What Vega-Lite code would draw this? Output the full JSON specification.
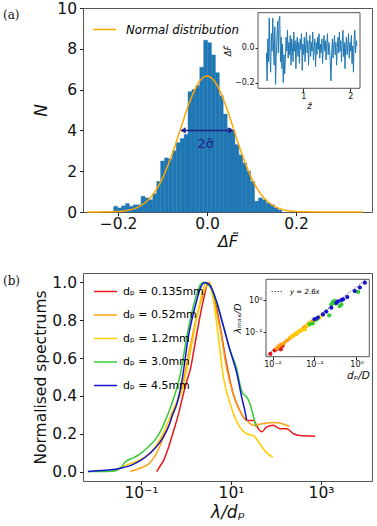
{
"$schema": "https://vega.github.io/schema/vega-lite/v6.json",
"padding": {"left": 2, "top": 0, "right": 6, "bottom": 2},
"background": "white",
"config": {
  "font": "DejaVu Sans",
  "view": {"stroke": "#555", "strokeWidth": 1},
  "axis": {"grid": false, "domain": false, "tickColor": "#222", "labelColor": "#111", "titleColor": "#111", "titleFontWeight": "normal", "labelFont": "DejaVu Sans", "titleFont": "DejaVu Sans"},
  "legend": {"labelFont": "DejaVu Sans", "padding": 0},
  "title": {"font": "DejaVu Serif", "fontSize": 12, "fontWeight": "normal", "anchor": "start", "frame": "group", "color": "#111"}
},
"datasets": {
  "hist": [
    {"lo": -0.2100, "hi": -0.2012, "count": 0.28},
    {"lo": -0.2012, "hi": -0.1924, "count": 0.2},
    {"lo": -0.1924, "hi": -0.1836, "count": 0.3},
    {"lo": -0.1836, "hi": -0.1748, "count": 0.41},
    {"lo": -0.1748, "hi": -0.1660, "count": 0.28},
    {"lo": -0.1660, "hi": -0.1572, "count": 0.35},
    {"lo": -0.1572, "hi": -0.1484, "count": 0.35},
    {"lo": -0.1484, "hi": -0.1396, "count": 0.77},
    {"lo": -0.1396, "hi": -0.1308, "count": 0.69},
    {"lo": -0.1308, "hi": -0.1220, "count": 0.6},
    {"lo": -0.1220, "hi": -0.1132, "count": 0.9},
    {"lo": -0.1132, "hi": -0.1044, "count": 1.5},
    {"lo": -0.1044, "hi": -0.0956, "count": 2.5},
    {"lo": -0.0956, "hi": -0.0868, "count": 2.65},
    {"lo": -0.0868, "hi": -0.0780, "count": 2.6},
    {"lo": -0.0780, "hi": -0.0692, "count": 3.0},
    {"lo": -0.0692, "hi": -0.0604, "count": 3.4},
    {"lo": -0.0604, "hi": -0.0516, "count": 3.6},
    {"lo": -0.0516, "hi": -0.0428, "count": 3.8},
    {"lo": -0.0428, "hi": -0.0340, "count": 5.9},
    {"lo": -0.0340, "hi": -0.0252, "count": 6.0},
    {"lo": -0.0252, "hi": -0.0164, "count": 6.2},
    {"lo": -0.0164, "hi": -0.0076, "count": 7.1},
    {"lo": -0.0076, "hi": 0.0012, "count": 8.42},
    {"lo": 0.0012, "hi": 0.0100, "count": 8.3},
    {"lo": 0.0100, "hi": 0.0188, "count": 7.7},
    {"lo": 0.0188, "hi": 0.0276, "count": 6.83},
    {"lo": 0.0276, "hi": 0.0364, "count": 5.7},
    {"lo": 0.0364, "hi": 0.0452, "count": 4.8},
    {"lo": 0.0452, "hi": 0.0540, "count": 4.1},
    {"lo": 0.0540, "hi": 0.0628, "count": 4.0},
    {"lo": 0.0628, "hi": 0.0716, "count": 3.3},
    {"lo": 0.0716, "hi": 0.0804, "count": 2.8},
    {"lo": 0.0804, "hi": 0.0892, "count": 2.4},
    {"lo": 0.0892, "hi": 0.0980, "count": 2.0},
    {"lo": 0.0980, "hi": 0.1068, "count": 1.5},
    {"lo": 0.1068, "hi": 0.1156, "count": 0.53},
    {"lo": 0.1156, "hi": 0.1244, "count": 0.69},
    {"lo": 0.1244, "hi": 0.1332, "count": 0.6},
    {"lo": 0.1332, "hi": 0.1420, "count": 0.44},
    {"lo": 0.1420, "hi": 0.1508, "count": 0.36},
    {"lo": 0.1508, "hi": 0.1596, "count": 0.2},
    {"lo": 0.1596, "hi": 0.1684, "count": 0.1}
  ],
  "normal": [
    {"series": "Normal distribution", "dF": -0.27, "N": 0.0},
    {"series": "Normal distribution", "dF": -0.25, "N": 0.001},
    {"series": "Normal distribution", "dF": -0.22, "N": 0.008},
    {"series": "Normal distribution", "dF": -0.20, "N": 0.026},
    {"series": "Normal distribution", "dF": -0.18, "N": 0.074},
    {"series": "Normal distribution", "dF": -0.16, "N": 0.19},
    {"series": "Normal distribution", "dF": -0.14, "N": 0.44},
    {"series": "Normal distribution", "dF": -0.12, "N": 0.90},
    {"series": "Normal distribution", "dF": -0.10, "N": 1.66},
    {"series": "Normal distribution", "dF": -0.08, "N": 2.74},
    {"series": "Normal distribution", "dF": -0.06, "N": 4.05},
    {"series": "Normal distribution", "dF": -0.04, "N": 5.34},
    {"series": "Normal distribution", "dF": -0.02, "N": 6.31},
    {"series": "Normal distribution", "dF": 0.0, "N": 6.67},
    {"series": "Normal distribution", "dF": 0.02, "N": 6.31},
    {"series": "Normal distribution", "dF": 0.04, "N": 5.34},
    {"series": "Normal distribution", "dF": 0.06, "N": 4.05},
    {"series": "Normal distribution", "dF": 0.08, "N": 2.74},
    {"series": "Normal distribution", "dF": 0.10, "N": 1.66},
    {"series": "Normal distribution", "dF": 0.12, "N": 0.90},
    {"series": "Normal distribution", "dF": 0.14, "N": 0.44},
    {"series": "Normal distribution", "dF": 0.16, "N": 0.19},
    {"series": "Normal distribution", "dF": 0.18, "N": 0.074},
    {"series": "Normal distribution", "dF": 0.20, "N": 0.026},
    {"series": "Normal distribution", "dF": 0.22, "N": 0.008},
    {"series": "Normal distribution", "dF": 0.25, "N": 0.001},
    {"series": "Normal distribution", "dF": 0.30, "N": 0.0},
    {"series": "Normal distribution", "dF": 0.35, "N": 0.0}
  ],
  "series": [
    {"z": 0.21, "dF": -0.03}, {"z": 0.225, "dF": -0.19}, {"z": 0.24, "dF": 0.05}, {"z": 0.255, "dF": -0.08},
    {"z": 0.27, "dF": 0.17}, {"z": 0.285, "dF": -0.05}, {"z": 0.30, "dF": -0.14}, {"z": 0.315, "dF": 0.08},
    {"z": 0.33, "dF": -0.02}, {"z": 0.345, "dF": 0.17}, {"z": 0.36, "dF": 0.02}, {"z": 0.375, "dF": -0.10},
    {"z": 0.39, "dF": 0.12}, {"z": 0.405, "dF": -0.21}, {"z": 0.42, "dF": -0.05}, {"z": 0.435, "dF": 0.06},
    {"z": 0.45, "dF": 0.15}, {"z": 0.465, "dF": -0.03}, {"z": 0.48, "dF": 0.16}, {"z": 0.495, "dF": 0.18},
    {"z": 0.51, "dF": -0.08}, {"z": 0.525, "dF": 0.06}, {"z": 0.54, "dF": -0.12}, {"z": 0.555, "dF": 0.02},
    {"z": 0.57, "dF": -0.20}, {"z": 0.585, "dF": -0.04}, {"z": 0.60, "dF": -0.15}, {"z": 0.615, "dF": -0.07},
    {"z": 0.63, "dF": 0.06}, {"z": 0.645, "dF": -0.02}, {"z": 0.66, "dF": 0.10}, {"z": 0.675, "dF": -0.06},
    {"z": 0.69, "dF": 0.03}, {"z": 0.705, "dF": -0.04}, {"z": 0.72, "dF": 0.07}, {"z": 0.735, "dF": -0.10},
    {"z": 0.75, "dF": 0.05}, {"z": 0.765, "dF": 0.0}, {"z": 0.78, "dF": -0.08}, {"z": 0.795, "dF": 0.09},
    {"z": 0.81, "dF": -0.02}, {"z": 0.825, "dF": 0.04}, {"z": 0.84, "dF": -0.12}, {"z": 0.855, "dF": 0.02},
    {"z": 0.87, "dF": 0.06}, {"z": 0.885, "dF": -0.05}, {"z": 0.90, "dF": 0.03}, {"z": 0.915, "dF": -0.09},
    {"z": 0.93, "dF": 0.05}, {"z": 0.945, "dF": -0.01}, {"z": 0.96, "dF": 0.08}, {"z": 0.975, "dF": -0.13},
    {"z": 0.99, "dF": 0.02}, {"z": 1.005, "dF": -0.04}, {"z": 1.02, "dF": 0.06}, {"z": 1.035, "dF": -0.08},
    {"z": 1.05, "dF": 0.02}, {"z": 1.065, "dF": 0.09}, {"z": 1.08, "dF": -0.03}, {"z": 1.095, "dF": 0.04},
    {"z": 1.11, "dF": -0.10}, {"z": 1.125, "dF": 0.01}, {"z": 1.14, "dF": 0.07}, {"z": 1.155, "dF": -0.05},
    {"z": 1.17, "dF": 0.03}, {"z": 1.185, "dF": -0.02}, {"z": 1.20, "dF": 0.09}, {"z": 1.215, "dF": -0.07},
    {"z": 1.23, "dF": 0.0}, {"z": 1.245, "dF": 0.05}, {"z": 1.26, "dF": -0.11}, {"z": 1.275, "dF": 0.03},
    {"z": 1.29, "dF": -0.04}, {"z": 1.305, "dF": 0.06}, {"z": 1.32, "dF": -0.01}, {"z": 1.335, "dF": 0.08},
    {"z": 1.35, "dF": -0.06}, {"z": 1.365, "dF": 0.02}, {"z": 1.38, "dF": -0.03}, {"z": 1.395, "dF": 0.05},
    {"z": 1.41, "dF": -0.09}, {"z": 1.425, "dF": 0.01}, {"z": 1.44, "dF": 0.07}, {"z": 1.455, "dF": -0.02},
    {"z": 1.47, "dF": 0.04}, {"z": 1.485, "dF": -0.07}, {"z": 1.50, "dF": 0.02}, {"z": 1.515, "dF": 0.08},
    {"z": 1.53, "dF": -0.04}, {"z": 1.545, "dF": 0.03}, {"z": 1.56, "dF": -0.01}, {"z": 1.575, "dF": -0.08},
    {"z": 1.59, "dF": -0.19}, {"z": 1.605, "dF": -0.03}, {"z": 1.62, "dF": 0.05}, {"z": 1.635, "dF": -0.06},
    {"z": 1.65, "dF": 0.02}, {"z": 1.665, "dF": 0.07}, {"z": 1.68, "dF": -0.04}, {"z": 1.695, "dF": 0.03},
    {"z": 1.71, "dF": -0.10}, {"z": 1.725, "dF": 0.0}, {"z": 1.74, "dF": 0.06}, {"z": 1.755, "dF": -0.03},
    {"z": 1.77, "dF": 0.09}, {"z": 1.785, "dF": -0.02}, {"z": 1.80, "dF": 0.04}, {"z": 1.815, "dF": -0.08},
    {"z": 1.83, "dF": 0.02}, {"z": 1.845, "dF": 0.10}, {"z": 1.86, "dF": -0.05}, {"z": 1.875, "dF": 0.03},
    {"z": 1.89, "dF": -0.12}, {"z": 1.905, "dF": 0.01}, {"z": 1.92, "dF": 0.06}, {"z": 1.935, "dF": -0.04},
    {"z": 1.95, "dF": 0.02}, {"z": 1.965, "dF": 0.08}, {"z": 1.98, "dF": -0.06}, {"z": 1.995, "dF": 0.03},
    {"z": 2.01, "dF": -0.02}, {"z": 2.025, "dF": 0.07}, {"z": 2.04, "dF": -0.09}, {"z": 2.055, "dF": 0.01},
    {"z": 2.07, "dF": -0.14}, {"z": 2.085, "dF": 0.05}, {"z": 2.10, "dF": 0.10}, {"z": 2.115, "dF": -0.03},
    {"z": 2.13, "dF": 0.04}, {"z": 2.145, "dF": 0.01}
  ],
  "spectra": [
    {"dp": "dₚ = 0.135mm", "lambda_dp": 0.2239, "spectrum": 0.0},
    {"dp": "dₚ = 0.135mm", "lambda_dp": 0.2512, "spectrum": 0.02},
    {"dp": "dₚ = 0.135mm", "lambda_dp": 0.3162, "spectrum": 0.058},
    {"dp": "dₚ = 0.135mm", "lambda_dp": 0.4121, "spectrum": 0.13},
    {"dp": "dₚ = 0.135mm", "lambda_dp": 0.537, "spectrum": 0.22},
    {"dp": "dₚ = 0.135mm", "lambda_dp": 0.6918, "spectrum": 0.31},
    {"dp": "dₚ = 0.135mm", "lambda_dp": 0.8128, "spectrum": 0.38},
    {"dp": "dₚ = 0.135mm", "lambda_dp": 1.0471, "spectrum": 0.48},
    {"dp": "dₚ = 0.135mm", "lambda_dp": 1.23, "spectrum": 0.535},
    {"dp": "dₚ = 0.135mm", "lambda_dp": 1.738, "spectrum": 0.73},
    {"dp": "dₚ = 0.135mm", "lambda_dp": 2.399, "spectrum": 0.9},
    {"dp": "dₚ = 0.135mm", "lambda_dp": 3.162, "spectrum": 1.0},
    {"dp": "dₚ = 0.135mm", "lambda_dp": 4.074, "spectrum": 0.94},
    {"dp": "dₚ = 0.135mm", "lambda_dp": 5.754, "spectrum": 0.765},
    {"dp": "dₚ = 0.135mm", "lambda_dp": 7.943, "spectrum": 0.57},
    {"dp": "dₚ = 0.135mm", "lambda_dp": 11.22, "spectrum": 0.41},
    {"dp": "dₚ = 0.135mm", "lambda_dp": 15.85, "spectrum": 0.32},
    {"dp": "dₚ = 0.135mm", "lambda_dp": 22.39, "spectrum": 0.27},
    {"dp": "dₚ = 0.135mm", "lambda_dp": 31.62, "spectrum": 0.27},
    {"dp": "dₚ = 0.135mm", "lambda_dp": 39.81, "spectrum": 0.23},
    {"dp": "dₚ = 0.135mm", "lambda_dp": 47.86, "spectrum": 0.21},
    {"dp": "dₚ = 0.135mm", "lambda_dp": 61.66, "spectrum": 0.235},
    {"dp": "dₚ = 0.135mm", "lambda_dp": 87.1, "spectrum": 0.245},
    {"dp": "dₚ = 0.135mm", "lambda_dp": 123.0, "spectrum": 0.226},
    {"dp": "dₚ = 0.135mm", "lambda_dp": 173.8, "spectrum": 0.226},
    {"dp": "dₚ = 0.135mm", "lambda_dp": 245.5, "spectrum": 0.2},
    {"dp": "dₚ = 0.135mm", "lambda_dp": 338.8, "spectrum": 0.19},
    {"dp": "dₚ = 0.135mm", "lambda_dp": 741.3, "spectrum": 0.187},
    {"dp": "dₚ = 0.52mm", "lambda_dp": 0.05754, "spectrum": 0.0},
    {"dp": "dₚ = 0.52mm", "lambda_dp": 0.1, "spectrum": 0.02},
    {"dp": "dₚ = 0.52mm", "lambda_dp": 0.1479, "spectrum": 0.04},
    {"dp": "dₚ = 0.52mm", "lambda_dp": 0.2089, "spectrum": 0.085},
    {"dp": "dₚ = 0.52mm", "lambda_dp": 0.3162, "spectrum": 0.18},
    {"dp": "dₚ = 0.52mm", "lambda_dp": 0.4898, "spectrum": 0.29},
    {"dp": "dₚ = 0.52mm", "lambda_dp": 0.631, "spectrum": 0.37},
    {"dp": "dₚ = 0.52mm", "lambda_dp": 0.7943, "spectrum": 0.44},
    {"dp": "dₚ = 0.52mm", "lambda_dp": 1.23, "spectrum": 0.66},
    {"dp": "dₚ = 0.52mm", "lambda_dp": 1.862, "spectrum": 0.85},
    {"dp": "dₚ = 0.52mm", "lambda_dp": 2.63, "spectrum": 0.96},
    {"dp": "dₚ = 0.52mm", "lambda_dp": 3.311, "spectrum": 1.0},
    {"dp": "dₚ = 0.52mm", "lambda_dp": 4.074, "spectrum": 0.92},
    {"dp": "dₚ = 0.52mm", "lambda_dp": 5.754, "spectrum": 0.75},
    {"dp": "dₚ = 0.52mm", "lambda_dp": 7.943, "spectrum": 0.55},
    {"dp": "dₚ = 0.52mm", "lambda_dp": 11.22, "spectrum": 0.41},
    {"dp": "dₚ = 0.52mm", "lambda_dp": 15.85, "spectrum": 0.32},
    {"dp": "dₚ = 0.52mm", "lambda_dp": 22.39, "spectrum": 0.27},
    {"dp": "dₚ = 0.52mm", "lambda_dp": 31.62, "spectrum": 0.245},
    {"dp": "dₚ = 0.52mm", "lambda_dp": 43.65, "spectrum": 0.25},
    {"dp": "dₚ = 0.52mm", "lambda_dp": 61.66, "spectrum": 0.257},
    {"dp": "dₚ = 0.52mm", "lambda_dp": 87.1, "spectrum": 0.26},
    {"dp": "dₚ = 0.52mm", "lambda_dp": 120.2, "spectrum": 0.257},
    {"dp": "dₚ = 0.52mm", "lambda_dp": 173.8, "spectrum": 0.244},
    {"dp": "dₚ = 0.52mm", "lambda_dp": 199.5, "spectrum": 0.238},
    {"dp": "dₚ = 1.2mm", "lambda_dp": 0.02291, "spectrum": 0.0},
    {"dp": "dₚ = 1.2mm", "lambda_dp": 0.04467, "spectrum": 0.032},
    {"dp": "dₚ = 1.2mm", "lambda_dp": 0.1047, "spectrum": 0.067},
    {"dp": "dₚ = 1.2mm", "lambda_dp": 0.1905, "spectrum": 0.12},
    {"dp": "dₚ = 1.2mm", "lambda_dp": 0.2951, "spectrum": 0.19},
    {"dp": "dₚ = 1.2mm", "lambda_dp": 0.4467, "spectrum": 0.29},
    {"dp": "dₚ = 1.2mm", "lambda_dp": 0.631, "spectrum": 0.37},
    {"dp": "dₚ = 1.2mm", "lambda_dp": 0.7413, "spectrum": 0.4},
    {"dp": "dₚ = 1.2mm", "lambda_dp": 1.23, "spectrum": 0.625},
    {"dp": "dₚ = 1.2mm", "lambda_dp": 1.862, "spectrum": 0.85},
    {"dp": "dₚ = 1.2mm", "lambda_dp": 2.63, "spectrum": 0.99},
    {"dp": "dₚ = 1.2mm", "lambda_dp": 2.951, "spectrum": 1.0},
    {"dp": "dₚ = 1.2mm", "lambda_dp": 4.074, "spectrum": 0.906},
    {"dp": "dₚ = 1.2mm", "lambda_dp": 5.248, "spectrum": 0.71},
    {"dp": "dₚ = 1.2mm", "lambda_dp": 6.761, "spectrum": 0.5},
    {"dp": "dₚ = 1.2mm", "lambda_dp": 9.55, "spectrum": 0.36},
    {"dp": "dₚ = 1.2mm", "lambda_dp": 14.45, "spectrum": 0.25},
    {"dp": "dₚ = 1.2mm", "lambda_dp": 22.39, "spectrum": 0.2},
    {"dp": "dₚ = 1.2mm", "lambda_dp": 31.62, "spectrum": 0.19},
    {"dp": "dₚ = 1.2mm", "lambda_dp": 43.65, "spectrum": 0.147},
    {"dp": "dₚ = 1.2mm", "lambda_dp": 61.66, "spectrum": 0.1},
    {"dp": "dₚ = 1.2mm", "lambda_dp": 85.11, "spectrum": 0.076},
    {"dp": "dₚ = 3.0mm", "lambda_dp": 0.00661, "spectrum": 0.0},
    {"dp": "dₚ = 3.0mm", "lambda_dp": 0.01259, "spectrum": 0.0},
    {"dp": "dₚ = 3.0mm", "lambda_dp": 0.02512, "spectrum": 0.003},
    {"dp": "dₚ = 3.0mm", "lambda_dp": 0.03548, "spectrum": 0.02},
    {"dp": "dₚ = 3.0mm", "lambda_dp": 0.04467, "spectrum": 0.05},
    {"dp": "dₚ = 3.0mm", "lambda_dp": 0.07079, "spectrum": 0.075},
    {"dp": "dₚ = 3.0mm", "lambda_dp": 0.1047, "spectrum": 0.1},
    {"dp": "dₚ = 3.0mm", "lambda_dp": 0.1585, "spectrum": 0.14},
    {"dp": "dₚ = 3.0mm", "lambda_dp": 0.2089, "spectrum": 0.17},
    {"dp": "dₚ = 3.0mm", "lambda_dp": 0.2818, "spectrum": 0.22},
    {"dp": "dₚ = 3.0mm", "lambda_dp": 0.3467, "spectrum": 0.27},
    {"dp": "dₚ = 3.0mm", "lambda_dp": 0.4365, "spectrum": 0.33},
    {"dp": "dₚ = 3.0mm", "lambda_dp": 0.537, "spectrum": 0.39},
    {"dp": "dₚ = 3.0mm", "lambda_dp": 0.7413, "spectrum": 0.51},
    {"dp": "dₚ = 3.0mm", "lambda_dp": 1.0375, "spectrum": 0.71},
    {"dp": "dₚ = 3.0mm", "lambda_dp": 1.445, "spectrum": 0.87},
    {"dp": "dₚ = 3.0mm", "lambda_dp": 2.042, "spectrum": 0.985},
    {"dp": "dₚ = 3.0mm", "lambda_dp": 2.399, "spectrum": 1.0},
    {"dp": "dₚ = 3.0mm", "lambda_dp": 3.388, "spectrum": 0.98},
    {"dp": "dₚ = 3.0mm", "lambda_dp": 4.786, "spectrum": 0.89},
    {"dp": "dₚ = 3.0mm", "lambda_dp": 6.761, "spectrum": 0.77},
    {"dp": "dₚ = 3.0mm", "lambda_dp": 9.55, "spectrum": 0.64},
    {"dp": "dₚ = 3.0mm", "lambda_dp": 13.49, "spectrum": 0.54},
    {"dp": "dₚ = 3.0mm", "lambda_dp": 15.85, "spectrum": 0.46},
    {"dp": "dₚ = 3.0mm", "lambda_dp": 18.62, "spectrum": 0.41},
    {"dp": "dₚ = 3.0mm", "lambda_dp": 21.38, "spectrum": 0.4},
    {"dp": "dₚ = 3.0mm", "lambda_dp": 26.3, "spectrum": 0.36},
    {"dp": "dₚ = 3.0mm", "lambda_dp": 31.62, "spectrum": 0.29},
    {"dp": "dₚ = 3.0mm", "lambda_dp": 36.31, "spectrum": 0.235},
    {"dp": "dₚ = 4.5mm", "lambda_dp": 0.00661, "spectrum": 0.0},
    {"dp": "dₚ = 4.5mm", "lambda_dp": 0.01259, "spectrum": 0.005},
    {"dp": "dₚ = 4.5mm", "lambda_dp": 0.02692, "spectrum": 0.012},
    {"dp": "dₚ = 4.5mm", "lambda_dp": 0.0631, "spectrum": 0.035},
    {"dp": "dₚ = 4.5mm", "lambda_dp": 0.1, "spectrum": 0.06},
    {"dp": "dₚ = 4.5mm", "lambda_dp": 0.1479, "spectrum": 0.09},
    {"dp": "dₚ = 4.5mm", "lambda_dp": 0.1995, "spectrum": 0.12},
    {"dp": "dₚ = 4.5mm", "lambda_dp": 0.2455, "spectrum": 0.145},
    {"dp": "dₚ = 4.5mm", "lambda_dp": 0.3162, "spectrum": 0.185},
    {"dp": "dₚ = 4.5mm", "lambda_dp": 0.4121, "spectrum": 0.24},
    {"dp": "dₚ = 4.5mm", "lambda_dp": 0.5012, "spectrum": 0.3},
    {"dp": "dₚ = 4.5mm", "lambda_dp": 0.631, "spectrum": 0.36},
    {"dp": "dₚ = 4.5mm", "lambda_dp": 0.7413, "spectrum": 0.43},
    {"dp": "dₚ = 4.5mm", "lambda_dp": 0.8128, "spectrum": 0.48},
    {"dp": "dₚ = 4.5mm", "lambda_dp": 1.122, "spectrum": 0.71},
    {"dp": "dₚ = 4.5mm", "lambda_dp": 1.585, "spectrum": 0.87},
    {"dp": "dₚ = 4.5mm", "lambda_dp": 2.138, "spectrum": 0.977},
    {"dp": "dₚ = 4.5mm", "lambda_dp": 2.63, "spectrum": 1.0},
    {"dp": "dₚ = 4.5mm", "lambda_dp": 3.388, "spectrum": 0.985},
    {"dp": "dₚ = 4.5mm", "lambda_dp": 4.786, "spectrum": 0.9},
    {"dp": "dₚ = 4.5mm", "lambda_dp": 6.761, "spectrum": 0.77},
    {"dp": "dₚ = 4.5mm", "lambda_dp": 9.55, "spectrum": 0.64},
    {"dp": "dₚ = 4.5mm", "lambda_dp": 13.49, "spectrum": 0.52},
    {"dp": "dₚ = 4.5mm", "lambda_dp": 17.38, "spectrum": 0.39},
    {"dp": "dₚ = 4.5mm", "lambda_dp": 20.42, "spectrum": 0.32},
    {"dp": "dₚ = 4.5mm", "lambda_dp": 22.39, "spectrum": 0.27}
  ],
  "scatter": [
    {"dp": "dₚ = 0.135mm", "dp_D": 0.008913, "lambda_D": 0.02138},
    {"dp": "dₚ = 0.135mm", "dp_D": 0.01122, "lambda_D": 0.02754},
    {"dp": "dₚ = 0.135mm", "dp_D": 0.01259, "lambda_D": 0.03020},
    {"dp": "dₚ = 0.135mm", "dp_D": 0.01445, "lambda_D": 0.03467},
    {"dp": "dₚ = 0.135mm", "dp_D": 0.01585, "lambda_D": 0.02951},
    {"dp": "dₚ = 0.135mm", "dp_D": 0.01738, "lambda_D": 0.03802},
    {"dp": "dₚ = 0.52mm", "dp_D": 0.01259, "lambda_D": 0.03162},
    {"dp": "dₚ = 0.52mm", "dp_D": 0.01380, "lambda_D": 0.03631},
    {"dp": "dₚ = 0.52mm", "dp_D": 0.01585, "lambda_D": 0.04169},
    {"dp": "dₚ = 0.52mm", "dp_D": 0.01905, "lambda_D": 0.04677},
    {"dp": "dₚ = 0.52mm", "dp_D": 0.02239, "lambda_D": 0.05623},
    {"dp": "dₚ = 0.52mm", "dp_D": 0.02630, "lambda_D": 0.06761},
    {"dp": "dₚ = 0.52mm", "dp_D": 0.03162, "lambda_D": 0.07943},
    {"dp": "dₚ = 0.52mm", "dp_D": 0.03715, "lambda_D": 0.08913},
    {"dp": "dₚ = 0.52mm", "dp_D": 0.04467, "lambda_D": 0.1096},
    {"dp": "dₚ = 0.52mm", "dp_D": 0.05370, "lambda_D": 0.1318},
    {"dp": "dₚ = 0.52mm", "dp_D": 0.05888, "lambda_D": 0.1479},
    {"dp": "dₚ = 0.52mm", "dp_D": 0.07079, "lambda_D": 0.1820},
    {"dp": "dₚ = 0.52mm", "dp_D": 0.08913, "lambda_D": 0.2188},
    {"dp": "dₚ = 1.2mm", "dp_D": 0.02818, "lambda_D": 0.07244},
    {"dp": "dₚ = 1.2mm", "dp_D": 0.03090, "lambda_D": 0.07943},
    {"dp": "dₚ = 1.2mm", "dp_D": 0.03548, "lambda_D": 0.09120},
    {"dp": "dₚ = 1.2mm", "dp_D": 0.04169, "lambda_D": 0.1047},
    {"dp": "dₚ = 1.2mm", "dp_D": 0.05012, "lambda_D": 0.1202},
    {"dp": "dₚ = 1.2mm", "dp_D": 0.05888, "lambda_D": 0.1230},
    {"dp": "dₚ = 1.2mm", "dp_D": 0.06607, "lambda_D": 0.1585},
    {"dp": "dₚ = 1.2mm", "dp_D": 0.07762, "lambda_D": 0.1995},
    {"dp": "dₚ = 1.2mm", "dp_D": 0.1, "lambda_D": 0.2399},
    {"dp": "dₚ = 1.2mm", "dp_D": 0.1318, "lambda_D": 0.2884},
    {"dp": "dₚ = 1.2mm", "dp_D": 0.1585, "lambda_D": 0.3548},
    {"dp": "dₚ = 3.0mm", "dp_D": 0.07762, "lambda_D": 0.1778},
    {"dp": "dₚ = 3.0mm", "dp_D": 0.09120, "lambda_D": 0.1905},
    {"dp": "dₚ = 3.0mm", "dp_D": 0.1122, "lambda_D": 0.2512},
    {"dp": "dₚ = 3.0mm", "dp_D": 0.2239, "lambda_D": 0.3388},
    {"dp": "dₚ = 3.0mm", "dp_D": 0.2512, "lambda_D": 0.7586},
    {"dp": "dₚ = 3.0mm", "dp_D": 0.2754, "lambda_D": 0.8913},
    {"dp": "dₚ = 3.0mm", "dp_D": 0.3020, "lambda_D": 0.9550},
    {"dp": "dₚ = 3.0mm", "dp_D": 0.3162, "lambda_D": 0.7943},
    {"dp": "dₚ = 3.0mm", "dp_D": 0.3981, "lambda_D": 0.6607},
    {"dp": "dₚ = 3.0mm", "dp_D": 0.4365, "lambda_D": 0.7413},
    {"dp": "dₚ = 3.0mm", "dp_D": 1.096, "lambda_D": 1.820},
    {"dp": "dₚ = 4.5mm", "dp_D": 0.1, "lambda_D": 0.2570},
    {"dp": "dₚ = 4.5mm", "dp_D": 0.1202, "lambda_D": 0.2884},
    {"dp": "dₚ = 4.5mm", "dp_D": 0.1585, "lambda_D": 0.3631},
    {"dp": "dₚ = 4.5mm", "dp_D": 0.1905, "lambda_D": 0.4467},
    {"dp": "dₚ = 4.5mm", "dp_D": 0.2512, "lambda_D": 0.5888},
    {"dp": "dₚ = 4.5mm", "dp_D": 0.3311, "lambda_D": 0.8318},
    {"dp": "dₚ = 4.5mm", "dp_D": 0.3631, "lambda_D": 0.9333},
    {"dp": "dₚ = 4.5mm", "dp_D": 0.4365, "lambda_D": 1.023},
    {"dp": "dₚ = 4.5mm", "dp_D": 0.4786, "lambda_D": 1.072},
    {"dp": "dₚ = 4.5mm", "dp_D": 0.6026, "lambda_D": 1.259},
    {"dp": "dₚ = 4.5mm", "dp_D": 0.9120, "lambda_D": 1.950},
    {"dp": "dₚ = 4.5mm", "dp_D": 1.202, "lambda_D": 2.512},
    {"dp": "dₚ = 4.5mm", "dp_D": 1.585, "lambda_D": 3.548}
  ],
  "fit": [
    {"fit": "y = 2.6x", "dp_D": 0.007, "lambda_D": 0.0182},
    {"fit": "y = 2.6x", "dp_D": 1.742, "lambda_D": 4.529}
  ]
},
"spacing": 22,
"vconcat": [
  {
    "title": {"text": "(a)", "dx": -80, "offset": -21},
    "width": 289,
    "height": 204,
    "layer": [
      {
        "layer": [
          {
            "data": {"name": "hist"},
            "mark": {"type": "rect", "color": "#1f77b4", "stroke": "#1f77b4", "strokeWidth": 0.4},
            "encoding": {
              "x": {"field": "lo", "type": "quantitative", "scale": {"domain": [-0.279, 0.371], "nice": false, "zero": false},
                    "axis": {"values": [-0.2, 0, 0.2], "format": ".1f", "title": "ΔF̃", "titleFontStyle": "italic", "labelFontSize": 15.5, "titleFontSize": 16, "tickSize": 3.5, "labelPadding": 1, "titlePadding": 1}},
              "x2": {"field": "hi"},
              "y": {"field": "count", "type": "quantitative", "scale": {"domain": [0, 10], "nice": false},
                    "axis": {"values": [0, 2, 4, 6, 8, 10], "format": "d", "title": "N", "titleFontStyle": "italic", "labelFontSize": 15.5, "titleFontSize": 17, "tickSize": 3.5, "labelPadding": 3, "titlePadding": 6}},
              "y2": {"datum": 0}
            }
          },
          {
            "data": {"name": "normal"},
            "mark": {"type": "line", "strokeWidth": 1.5, "interpolate": "monotone"},
            "encoding": {
              "x": {"field": "dF", "type": "quantitative"},
              "y": {"field": "N", "type": "quantitative"},
              "color": {"field": "series", "type": "nominal", "scale": {"range": ["#ffa500"]},
                        "legend": {"title": null, "orient": "top-left", "offset": 9, "symbolType": "stroke", "symbolSize": 529, "symbolStrokeWidth": 1.5, "labelFontSize": 11.7, "labelFontStyle": "italic", "labelOffset": 9}}
            }
          },
          {
            "data": {"values": [{}]},
            "mark": {"type": "rule", "color": "#22228a", "strokeWidth": 1.5},
            "encoding": {"x": {"datum": -0.055}, "x2": {"datum": 0.055}, "y": {"datum": 4.0}}
          },
          {
            "data": {"values": [{}]},
            "mark": {"type": "point", "shape": "triangle-left", "filled": true, "color": "#22228a", "size": 40, "opacity": 1},
            "encoding": {"x": {"datum": -0.054}, "y": {"datum": 4.0}}
          },
          {
            "data": {"values": [{}]},
            "mark": {"type": "point", "shape": "triangle-right", "filled": true, "color": "#22228a", "size": 40, "opacity": 1},
            "encoding": {"x": {"datum": 0.054}, "y": {"datum": 4.0}}
          },
          {
            "data": {"values": [{}]},
            "mark": {"type": "text", "color": "#22228a", "fontSize": 13, "font": "DejaVu Sans"},
            "encoding": {"x": {"datum": -0.003}, "y": {"datum": 3.35}, "text": {"value": "2σ̃"}}
          }
        ]
      },
      {
        "layer": [
          {
            "data": {"values": [{}]},
            "mark": {"type": "rect", "fill": "white", "stroke": "#555", "strokeWidth": 1},
            "encoding": {"x": {"datum": 0.03, "type": "quantitative"}, "x2": {"datum": 2.21}, "y": {"datum": -0.232, "type": "quantitative"}, "y2": {"datum": 0.2}}
          },
          {
            "data": {"name": "series"},
            "mark": {"type": "line", "color": "#1f77b4", "strokeWidth": 1},
            "encoding": {
              "x": {"field": "z", "type": "quantitative", "scale": {"domain": [0.03, 2.21], "range": [175, 277], "nice": false, "zero": false},
                    "axis": {"orient": "bottom", "offset": -123.7, "values": [1, 2], "format": "d", "title": "z̃", "titleFontStyle": "italic", "labelFontSize": 8, "titleFontSize": 8.5, "tickSize": 3, "labelPadding": 1, "titlePadding": 1}},
              "y": {"field": "dF", "type": "quantitative", "scale": {"domain": [-0.232, 0.2], "range": [80.3, 4.7], "nice": false, "zero": false},
                    "axis": {"orient": "left", "offset": -175, "values": [-0.2, 0], "format": ".1f", "title": "ΔF̃", "titleFontStyle": "italic", "labelFontSize": 8, "titleFontSize": 8.5, "tickSize": 3, "labelPadding": 1, "titlePadding": 2}}
            }
          }
        ]
      }
    ],
    "resolve": {"scale": {"x": "independent", "y": "independent"}}
  },
  {
    "title": {"text": "(b)", "dx": -80, "offset": -15},
    "width": 289,
    "height": 208,
    "layer": [
      {
        "data": {"name": "spectra"},
        "mark": {"type": "line", "strokeWidth": 1.5, "interpolate": "monotone"},
        "encoding": {
          "x": {"field": "lambda_dp", "type": "quantitative", "scale": {"type": "log", "domain": [0.00514, 13600], "nice": false},
                "axis": {"values": [0.1, 10, 1000], "labelExpr": "datum.value < 1 ? '10⁻¹' : datum.value < 100 ? '10¹' : '10³'", "title": "λ/dₚ", "titleFontStyle": "italic", "labelFontSize": 15.5, "titleFontSize": 17, "tickSize": 3.5, "labelPadding": 1, "titlePadding": 3}},
          "y": {"field": "spectrum", "type": "quantitative", "scale": {"domain": [-0.05, 1.05], "nice": false, "zero": false},
                "axis": {"values": [0, 0.2, 0.4, 0.6, 0.8, 1.0], "format": ".1f", "title": "Normalised spectrums", "labelFontSize": 15.5, "titleFontSize": 15.5, "tickSize": 3.5, "labelPadding": 3, "titlePadding": 3}},
          "color": {"field": "dp", "type": "nominal",
                    "scale": {"domain": ["dₚ = 0.135mm", "dₚ = 0.52mm", "dₚ = 1.2mm", "dₚ = 3.0mm", "dₚ = 4.5mm"], "range": ["#e8161a", "#ffa010", "#ffcc00", "#33cc33", "#1414d2"]},
                    "legend": {"title": null, "orient": "top-left", "offset": 6, "symbolOffset": 4, "symbolType": "stroke", "symbolSize": 529, "symbolStrokeWidth": 1.5, "labelFontSize": 11, "labelOffset": 5, "rowPadding": 5.5}}
        }
      },
      {
        "layer": [
          {
            "data": {"values": [{}]},
            "mark": {"type": "rect", "fill": "white", "stroke": "#555", "strokeWidth": 1},
            "encoding": {"x": {"datum": 0.007, "type": "quantitative"}, "x2": {"datum": 2.018}, "y": {"datum": 0.01738, "type": "quantitative"}, "y2": {"datum": 4.529}}
          },
          {
            "data": {"name": "fit"},
            "mark": {"type": "line", "color": "#555", "strokeWidth": 1},
            "encoding": {
              "x": {"field": "dp_D", "type": "quantitative"},
              "y": {"field": "lambda_D", "type": "quantitative"},
              "strokeDash": {"field": "fit", "type": "nominal", "scale": {"range": [[1.5, 1.5]]},
                             "legend": {"title": null, "orient": "none", "legendX": 188, "legendY": 12, "symbolType": "stroke", "symbolSize": 144, "symbolStrokeWidth": 1, "labelFontSize": 7, "labelFontStyle": "italic", "labelOffset": 6}}
            }
          },
          {
            "data": {"name": "scatter"},
            "mark": {"type": "circle", "size": 18, "opacity": 1},
            "encoding": {
              "x": {"field": "dp_D", "type": "quantitative", "scale": {"type": "log", "domain": [0.007, 2.018], "range": [183, 286.3], "nice": false},
                    "axis": {"orient": "bottom", "offset": -124.3, "values": [0.01, 0.1, 1], "labelExpr": "datum.value < 0.05 ? '10⁻²' : datum.value < 0.5 ? '10⁻¹' : '10⁰'", "title": "dₚ/D", "titleFontStyle": "italic", "titleAnchor": "end", "labelFontSize": 8, "titleFontSize": 10.5, "tickSize": 3, "labelPadding": 1, "titlePadding": 2}},
              "y": {"field": "lambda_D", "type": "quantitative", "scale": {"type": "log", "domain": [0.01738, 4.529], "range": [83.7, 6.3], "nice": false},
                    "axis": {"orient": "left", "offset": -183, "values": [0.1, 1], "labelExpr": "datum.value < 0.5 ? '10⁻¹' : '10⁰'", "title": "λₘₐₓ/D", "titleFontStyle": "italic", "labelFontSize": 8, "titleFontSize": 9.5, "tickSize": 3, "labelPadding": 1, "titlePadding": 2}},
              "color": {"field": "dp", "type": "nominal"}
            }
          }
        ]
      }
    ],
    "resolve": {"scale": {"x": "independent", "y": "independent"}}
  }
],
"resolve": {"scale": {"color": "independent", "strokeDash": "independent"}, "legend": {"color": "independent", "strokeDash": "independent"}}
}
